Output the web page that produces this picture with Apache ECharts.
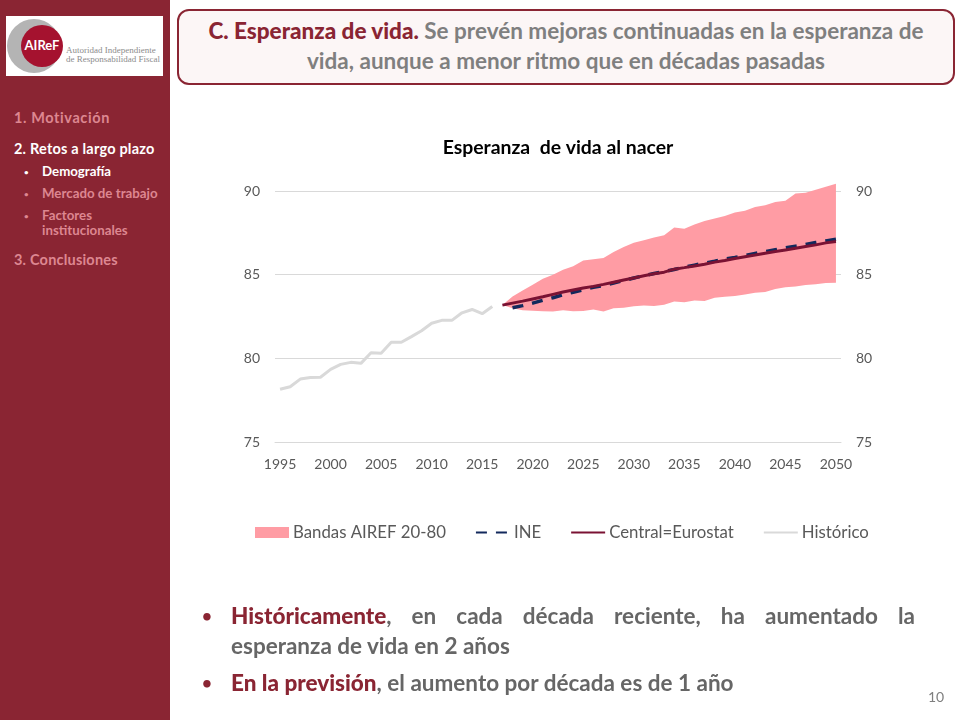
<!DOCTYPE html>
<html>

<head>
  <meta charset="utf-8">
  <title>Esperanza de vida</title>
  <script src="https://cdn.jsdelivr.net/npm/echarts@6/dist/echarts.min.js" charset="utf-8"></script>
  <style media="screen">
    html, body { margin: 0; padding: 0; background: #fff; }
    body { width: 960px; height: 720px; position: relative; overflow: hidden; font-family: Lato, "Open Sans", sans-serif; }
    #main { position: absolute; left: 0; top: 0; width: 960px; height: 720px; }
    #side { position: absolute; left: 0; top: 0; width: 170px; height: 720px; background: #8a2533; }
    #logo { position: absolute; left: 6px; top: 16px; }
    .nav { position: absolute; font-weight: 700; color: #dd8791; white-space: nowrap; }
    .nav.on { color: #fff; }
    .h { left: 14px; font-size: 14.5px; }
    .s { left: 42px; font-size: 13.3px; line-height: 15px; }
    .d { left: 24px; font-size: 8px; }
    #head { position: absolute; left: 177px; top: 9px; width: 774px; height: 72px; border: 2.5px solid #8a2533; border-radius: 12px; background: #fcf6f6; text-align: center; font-size: 22.5px; line-height: 30px; font-weight: 700; color: #7f7f7f; display: flex; align-items: center; justify-content: center; }
    #head div { margin-top: -3px; white-space: nowrap; }
    #head b, .txt b { color: #8a2533; }
    .txt { position: absolute; left: 231px; width: 684px; font-size: 22.5px; line-height: 30px; font-weight: 700; color: #666; white-space: nowrap; }
    .just { text-align: justify; text-align-last: justify; white-space: normal; }
    .bul { position: absolute; left: 202px; font-size: 17px; line-height: 30px; color: #8a2533; font-weight: 700; }
    #page { position: absolute; left: 928px; top: 688px; font-size: 14px; color: #7f7f7f; }
  </style>
</head>

<body>
  <div id="main"></div>

  <div id="side">
    <svg id="logo" width="157" height="60">
      <rect width="157" height="60" fill="#fff"></rect>
      <circle cx="28" cy="30" r="27" fill="#b4b4b4"></circle>
      <circle cx="36" cy="30" r="21" fill="#a5122f"></circle>
      <text x="36" y="34" text-anchor="middle" font-family="Lato" font-weight="700" font-size="13" fill="#fff">AIReF</text>
      <text x="60" y="37" font-family="Liberation Serif" font-size="9" fill="#8c8c8c">Autoridad Independiente</text>
      <text x="60" y="46" font-family="Liberation Serif" font-size="9" fill="#8c8c8c">de Responsabilidad Fiscal</text>
    </svg>
    <div class="nav h" style="top:109px;letter-spacing:.6px">1. Motivación</div>
    <div class="nav h on" style="top:140px;letter-spacing:.2px">2. Retos a largo plazo</div>
    <div class="nav d on" style="top:167px">•</div>
    <div class="nav s on" style="top:164px">Demografía</div>
    <div class="nav d" style="top:189px">•</div>
    <div class="nav s" style="top:186px">Mercado de trabajo</div>
    <div class="nav d" style="top:211px">•</div>
    <div class="nav s" style="top:208px">Factores<br>institucionales</div>
    <div class="nav h" style="top:251px;letter-spacing:.2px">3. Conclusiones</div>
  </div>

  <div id="head">
    <div><b>C. Esperanza de vida.</b> Se prevén mejoras continuadas en la esperanza de<br>vida, aunque a menor ritmo que en décadas pasadas</div>
  </div>

  <div class="bul" style="top:601px">•</div>
  <div class="txt just" style="top:601px"><b>Históricamente</b>, en cada década reciente, ha aumentado la</div>
  <div class="txt" style="top:631px">esperanza de vida en 2 años</div>
  <div class="bul" style="top:668px">•</div>
  <div class="txt" style="top:668px"><b>En la previsión</b>, el aumento por década es de 1 año</div>
  <div id="page">10</div>

  <script type="text/javascript">
    var years = [
      '1995', '1996', '1997', '1998', '1999', '2000', '2001', '2002', '2003', '2004',
      '2005', '2006', '2007', '2008', '2009', '2010', '2011', '2012', '2013', '2014',
      '2015', '2016', '2017', '2018', '2019', '2020', '2021', '2022', '2023', '2024',
      '2025', '2026', '2027', '2028', '2029', '2030', '2031', '2032', '2033', '2034',
      '2035', '2036', '2037', '2038', '2039', '2040', '2041', '2042', '2043', '2044',
      '2045', '2046', '2047', '2048', '2049', '2050'
    ];

    // 1995-2016
    var historico = [
      78.15, 78.3, 78.76, 78.86, 78.87, 79.34, 79.64, 79.76, 79.7, 80.33,
      80.3, 80.96, 80.96, 81.3, 81.65, 82.1, 82.27, 82.27, 82.72, 82.92,
      82.67, 83.1
    ];

    // 2017-2050
    var bandaAlta = [
      83.18, 83.7, 84.05, 84.4, 84.75, 85.0, 85.3, 85.5, 85.85, 85.92,
      86.0, 86.35, 86.65, 86.9, 87.05, 87.22, 87.35, 87.82, 87.75, 88.0,
      88.2, 88.35, 88.5, 88.72, 88.82, 89.05, 89.15, 89.35, 89.42, 89.85,
      89.9, 90.08, 90.25, 90.43
    ];
    var bandaBaja = [
      83.18, 83.0, 82.88, 82.85, 82.82, 82.8, 82.88, 82.82, 82.83, 82.92,
      82.8, 83.0, 83.03, 83.12, 83.15, 83.13, 83.2, 83.4, 83.35, 83.45,
      83.43, 83.62, 83.68, 83.73, 83.82, 83.92, 83.96, 84.15, 84.25, 84.3,
      84.38, 84.42, 84.5, 84.52
    ];
    var central = [
      83.18, 83.3, 83.42, 83.55, 83.68, 83.82, 83.96, 84.08, 84.2, 84.3,
      84.42, 84.55, 84.68, 84.8, 84.93, 85.05, 85.15, 85.33, 85.42, 85.52,
      85.62, 85.75, 85.85, 85.97, 86.07, 86.17, 86.28, 86.38, 86.48, 86.58,
      86.68, 86.78, 86.9, 86.98
    ];

    // 2018-2050
    var ine = [
      83.02, 83.15, 83.3, 83.47, 83.62, 83.8, 83.95, 84.1, 84.25, 84.35,
      84.5, 84.65, 84.8, 84.94, 85.07, 85.19, 85.31, 85.45, 85.57, 85.69,
      85.8, 85.93, 86.03, 86.15, 86.27, 86.38, 86.49, 86.6, 86.7, 86.8,
      86.92, 87.02, 87.12
    ];

    function pad(n, arr) {
      return new Array(n).fill(null).concat(arr);
    }

    var anchoBanda = bandaAlta.map(function(v, i) {
      return +(v - bandaBaja[i]).toFixed(2);
    });

    var labelStyle = { color: '#595959', fontSize: 14, fontFamily: 'Lato', margin: 15 };
    var hideDot = { opacity: 0 };

    var myChart = echarts.init(document.getElementById('main'));
    myChart.setOption({
      animation: false,
      title: {
        text: 'Esperanza  de vida al nacer',
        left: 553,
        top: 133,
        textAlign: 'center',
        textStyle: { color: '#000', fontSize: 19.4, fontWeight: 'bold', fontFamily: 'Lato' }
      },
      grid: { left: 275, right: 119, top: 191, bottom: 278 },
      legend: {
        left: 250,
        top: 519,
        itemWidth: 34,
        itemHeight: 11,
        itemGap: 29,
        textStyle: { color: '#595959', fontSize: 16.8, fontFamily: 'Lato', padding: [0, 0, 0, -1] },
        data: [
          { name: 'Bandas AIREF 20-80', icon: 'rect' },
          { name: 'INE', itemStyle: hideDot },
          { name: 'Central=Eurostat', itemStyle: hideDot },
          { name: 'Histórico', itemStyle: hideDot }
        ]
      },
      xAxis: {
        type: 'category',
        data: years,
        axisTick: { show: false },
        axisLine: { lineStyle: { color: '#d9d9d9' } },
        axisLabel: Object.assign({ interval: 4 }, labelStyle)
      },
      yAxis: [{
        type: 'value',
        min: 75,
        max: 90,
        interval: 5,
        axisLine: { show: false },
        axisTick: { show: false },
        axisLabel: labelStyle,
        splitLine: { lineStyle: { color: '#d9d9d9' } }
      }, {
        type: 'value',
        position: 'right',
        min: 75,
        max: 90,
        interval: 5,
        axisLine: { show: false },
        axisTick: { show: false },
        axisLabel: labelStyle,
        splitLine: { show: false }
      }],
      series: [{
        name: 'base',
        type: 'line',
        stack: 'banda',
        clip: false,
        symbol: 'none',
        lineStyle: { width: 0, opacity: 0 },
        data: pad(22, bandaBaja)
      }, {
        name: 'Bandas AIREF 20-80',
        type: 'line',
        stack: 'banda',
        clip: false,
        symbol: 'none',
        itemStyle: { color: '#ff9ca4' },
        lineStyle: { width: 0, opacity: 0 },
        areaStyle: { color: '#ff9ca4', opacity: 1 },
        data: pad(22, anchoBanda)
      }, {
        name: 'INE',
        type: 'line',
        clip: false,
        symbol: 'none',
        itemStyle: { color: '#12295c' },
        lineStyle: { color: '#12295c', width: 3.5, type: [11, 9] },
        data: pad(23, ine)
      }, {
        name: 'Central=Eurostat',
        type: 'line',
        clip: false,
        symbol: 'none',
        itemStyle: { color: '#7a1233' },
        lineStyle: { color: '#7a1233', width: 3 },
        data: pad(22, central)
      }, {
        name: 'Histórico',
        type: 'line',
        clip: false,
        symbol: 'none',
        itemStyle: { color: '#d9d9d9' },
        lineStyle: { color: '#d9d9d9', width: 3 },
        data: historico
      }]
    });
  </script>
</body>

</html>
